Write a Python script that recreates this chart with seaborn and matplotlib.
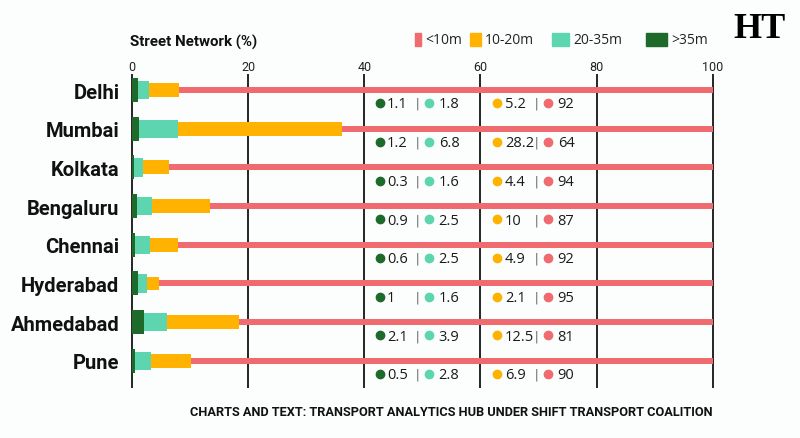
import numpy as np
import pandas as pd
import matplotlib
matplotlib.use("Agg")
import matplotlib.pyplot as plt
from matplotlib.patches import Rectangle
import seaborn as sns

cities = ["Delhi", "Mumbai", "Kolkata", "Bengaluru", "Chennai",
          "Hyderabad", "Ahmedabad", "Pune"]
over_35 = [1.1, 1.2, 0.3, 0.9, 0.6, 1, 2.1, 0.5]
m20_35 = [1.8, 6.8, 1.6, 2.5, 2.5, 1.6, 3.9, 2.8]
m10_20 = [5.2, 28.2, 4.4, 10, 4.9, 2.1, 12.5, 6.9]
under_10 = [92, 64, 94, 87, 92, 95, 81, 90]

ticks = [0, 20, 40, 60, 80, 100]
legend_labels = ["<10m", "10-20m", "20-35m", ">35m"]

RED = "#ef6b6f"
ORANGE = "#ffb300"
TEAL = "#5dd6b0"
GREEN = "#1e6a2b"
BG = "#fcfefe"

sns.set_style("white")
plt.rcParams["font.family"] = ["Roboto", "DejaVu Sans"]

df = pd.DataFrame({"city": cities, "g": over_35, "t": m20_35,
                   "o": m10_20, "r": under_10})
df["c_g"] = df["g"]
df["c_t"] = df["c_g"] + df["t"]
df["c_o"] = df["c_t"] + df["o"]
# shares are rounded, the <10m segment fills the rest of the 100% bar
df["c_r"] = np.maximum(df["c_o"] + df["r"], 100)

fig = plt.figure(figsize=(8, 4.39), dpi=100, facecolor=BG)
ax = fig.add_axes([0.165, 0.114, 0.726, 0.715])
ax.set_facecolor(BG)

# cumulative bars, thinnest first so thicker segments sit on top
layers = [("c_r", RED, 0.155), ("c_o", ORANGE, 0.36),
          ("c_t", TEAL, 0.47), ("c_g", GREEN, 0.62)]
for col, colr, w in layers:
    sns.barplot(data=df, x=col, y="city", order=cities, orient="h",
                color=colr, width=w, errorbar=None, linewidth=0,
                saturation=1, ax=ax, zorder=2)

ax.set_xlim(0, 100)
ax.set_ylim(7.70, -0.413)
ax.vlines(ticks, -0.413, 7.70, color="black", lw=1.2, zorder=1, clip_on=False)

ax.xaxis.tick_top()
ax.set_xticks(ticks)
ax.set_xticklabels([str(t) for t in ticks], fontsize=9, color="#222222")
ax.tick_params(axis="x", length=0, pad=1)
ax.tick_params(axis="y", length=0, pad=9)
for lab in ax.get_yticklabels():
    lab.set_fontsize(14.5)
    lab.set_fontweight("bold")
    lab.set_color("#111111")
ax.set_xlabel("")
ax.set_ylabel("")
for s in ax.spines.values():
    s.set_visible(False)

# value annotations under each bar
dy = 0.36
ypos = np.arange(len(cities)) + dy
groups = [(over_35, GREEN, 42.7, 43.9), (m20_35, TEAL, 51.1, 52.8),
          (m10_20, ORANGE, 62.8, 64.2), (under_10, RED, 71.6, 73.3)]
for vals, colr, xd, xt in groups:
    ax.scatter([xd] * len(vals), ypos - 0.02, s=36, color=colr,
               zorder=3, clip_on=False)
    for y, v in zip(ypos, vals):
        ax.text(xt, y, f"{v:g}", fontsize=10.5, va="center", ha="left",
                color="#1a1a1a", family=["Open Sans", "DejaVu Sans"])
for xs in [49.2, 69.7]:
    for y in ypos:
        ax.text(xs, y, "|", fontsize=10, va="center", ha="center",
                color="#666666")

# title and legend
fig.text(130 / 800, 1 - 42 / 439, "Street Network (%)", fontsize=10.8,
         fontweight="bold", va="center", ha="left", color="#111111")
leg_colors = [RED, ORANGE, TEAL, GREEN]
leg_x = [415, 470, 552, 646]
leg_w = [6, 11, 17, 21]
for lab, colr, x0, w in zip(legend_labels, leg_colors, leg_x, leg_w):
    fig.add_artist(Rectangle((x0 / 800, 1 - 47 / 439), w / 800, 13 / 439,
                             transform=fig.transFigure, color=colr))
    fig.text((x0 + w + 4) / 800, 1 - 41 / 439, lab, fontsize=10,
             va="center", ha="left", color="#222222",
             family=["Open Sans", "DejaVu Sans"])

fig.text(760 / 800, 1 - 29 / 439, "HT", fontsize=26, fontweight="bold",
         va="center", ha="center", color="black",
         family=["Liberation Serif", "DejaVu Serif"])

fig.text(713 / 800, 1 - 413 / 439,
         "CHARTS AND TEXT: TRANSPORT ANALYTICS HUB UNDER SHIFT TRANSPORT COALITION",
         fontsize=9.2, fontweight="bold", va="center", ha="right",
         color="#111111")

fig.savefig("out.png", dpi=100, facecolor=BG)
